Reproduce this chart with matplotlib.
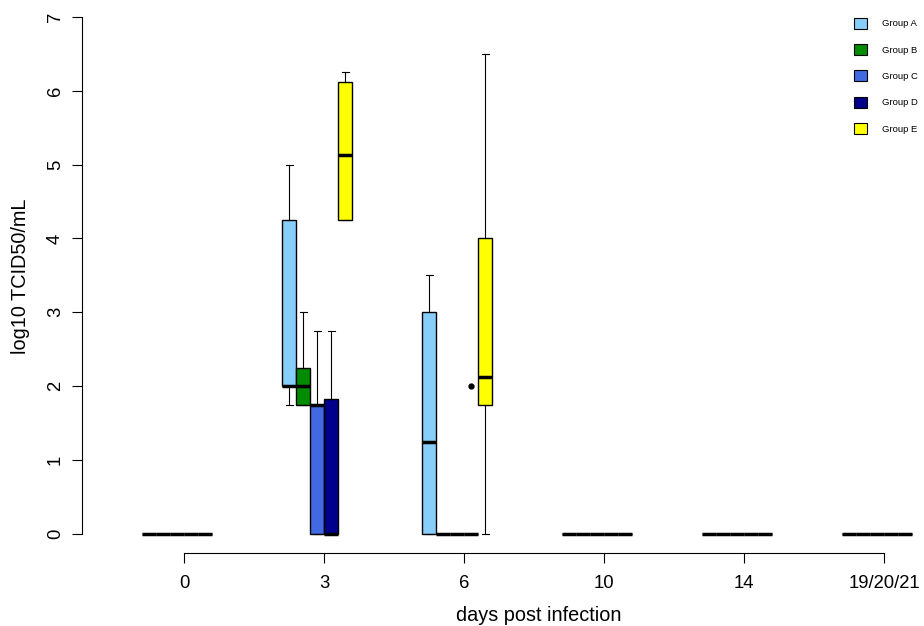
import matplotlib
matplotlib.use("Agg")
import matplotlib.pyplot as plt
from matplotlib.patches import Patch

plt.rcParams['font.family'] = ['Liberation Sans', 'DejaVu Sans']

# days post infection (x categories)
days = ['0', '3', '6', '10', '14', '19/20/21']
groups = ['Group A', 'Group B', 'Group C', 'Group D', 'Group E']
colors = ['#87CEFA', '#008B00', '#4169E1', '#00008B', '#FFFF00']

# box statistics per group (rows) and day (columns)
whislo = [[0, 1.75, 0, 0, 0, 0],
          [0, 1.75, 0, 0, 0, 0],
          [0, 0, 0, 0, 0, 0],
          [0, 0, 0, 0, 0, 0],
          [0, 4.25, 0, 0, 0, 0]]
q1 = [[0, 2.0, 0, 0, 0, 0],
      [0, 1.75, 0, 0, 0, 0],
      [0, 0, 0, 0, 0, 0],
      [0, 0, 0, 0, 0, 0],
      [0, 4.25, 1.75, 0, 0, 0]]
med = [[0, 2.0, 1.25, 0, 0, 0],
       [0, 2.0, 0, 0, 0, 0],
       [0, 1.75, 0, 0, 0, 0],
       [0, 0, 0, 0, 0, 0],
       [0, 5.125, 2.125, 0, 0, 0]]
q3 = [[0, 4.25, 3.0, 0, 0, 0],
      [0, 2.25, 0, 0, 0, 0],
      [0, 1.75, 0, 0, 0, 0],
      [0, 1.83, 0, 0, 0, 0],
      [0, 6.125, 4.0, 0, 0, 0]]
whishi = [[0, 5.0, 3.5, 0, 0, 0],
          [0, 3.0, 0, 0, 0, 0],
          [0, 2.75, 0, 0, 0, 0],
          [0, 2.75, 0, 0, 0, 0],
          [0, 6.25, 6.5, 0, 0, 0]]
fliers = [[[], [], [], [], [], []],
          [[], [], [], [], [], []],
          [[], [], [], [], [], []],
          [[], [], [2.0], [], [], []],
          [[], [], [], [], [], []]]

fig = plt.figure(figsize=(9.24, 6.26), dpi=100)
ax = fig.add_axes([82 / 924, 73 / 626, 838 / 924, 553 / 626])

spacing = 10
offsets = [-2.5, -1.5, -0.5, 0.5, 1.5]
for g in range(len(groups)):
    stats = []
    pos = []
    for d in range(len(days)):
        stats.append(dict(whislo=whislo[g][d], q1=q1[g][d], med=med[g][d],
                          q3=q3[g][d], whishi=whishi[g][d], fliers=fliers[g][d]))
        pos.append(d * spacing + offsets[g])
    ax.bxp(stats, positions=pos, widths=1.0, capwidths=0.5, patch_artist=True,
           boxprops=dict(facecolor=colors[g], edgecolor='black', linewidth=1.0),
           medianprops=dict(color='black', linewidth=2.5, solid_capstyle='butt'),
           whiskerprops=dict(color='black', linewidth=0.8),
           capprops=dict(color='black', linewidth=0.8),
           flierprops=dict(marker='o', markerfacecolor='black', markeredgecolor='black',
                           markersize=3.5, linestyle='none'))

ax.set_xlim((82 - 184) / 14, (920 - 184) / 14)
ax.set_ylim(-0.26, 7.23)

ax.set_xticks([d * spacing for d in range(len(days))])
ax.set_xticklabels(days)
ax.set_yticks(range(0, 8))
ax.set_yticklabels([str(v) for v in range(0, 8)], rotation=90, va='center')
ax.tick_params(axis='both', direction='out', length=7, width=0.8, labelsize=13.3)
ax.tick_params(axis='x', pad=9)
ax.tick_params(axis='y', pad=6)

for s in ['top', 'right']:
    ax.spines[s].set_visible(False)
ax.spines['left'].set_bounds(0, 7)
ax.spines['bottom'].set_bounds(0, (len(days) - 1) * spacing)
ax.spines['left'].set_linewidth(0.8)
ax.spines['bottom'].set_linewidth(0.8)

ax.set_xlabel('days post infection', fontsize=14.3)
ax.xaxis.set_label_coords(0.545, -0.096)
ax.set_ylabel('log10 TCID50/mL', fontsize=14.3, labelpad=12)

handles = [Patch(facecolor=c, edgecolor='black', linewidth=0.8) for c in colors]
ax.legend(handles, groups, loc='upper left', bbox_to_anchor=(0.9165, 0.975), frameon=False,
          fontsize=6.8, handlelength=1.35, handleheight=1.45, labelspacing=1.6,
          handletextpad=1.6, borderaxespad=0)

fig.savefig('out.png', dpi=100)
